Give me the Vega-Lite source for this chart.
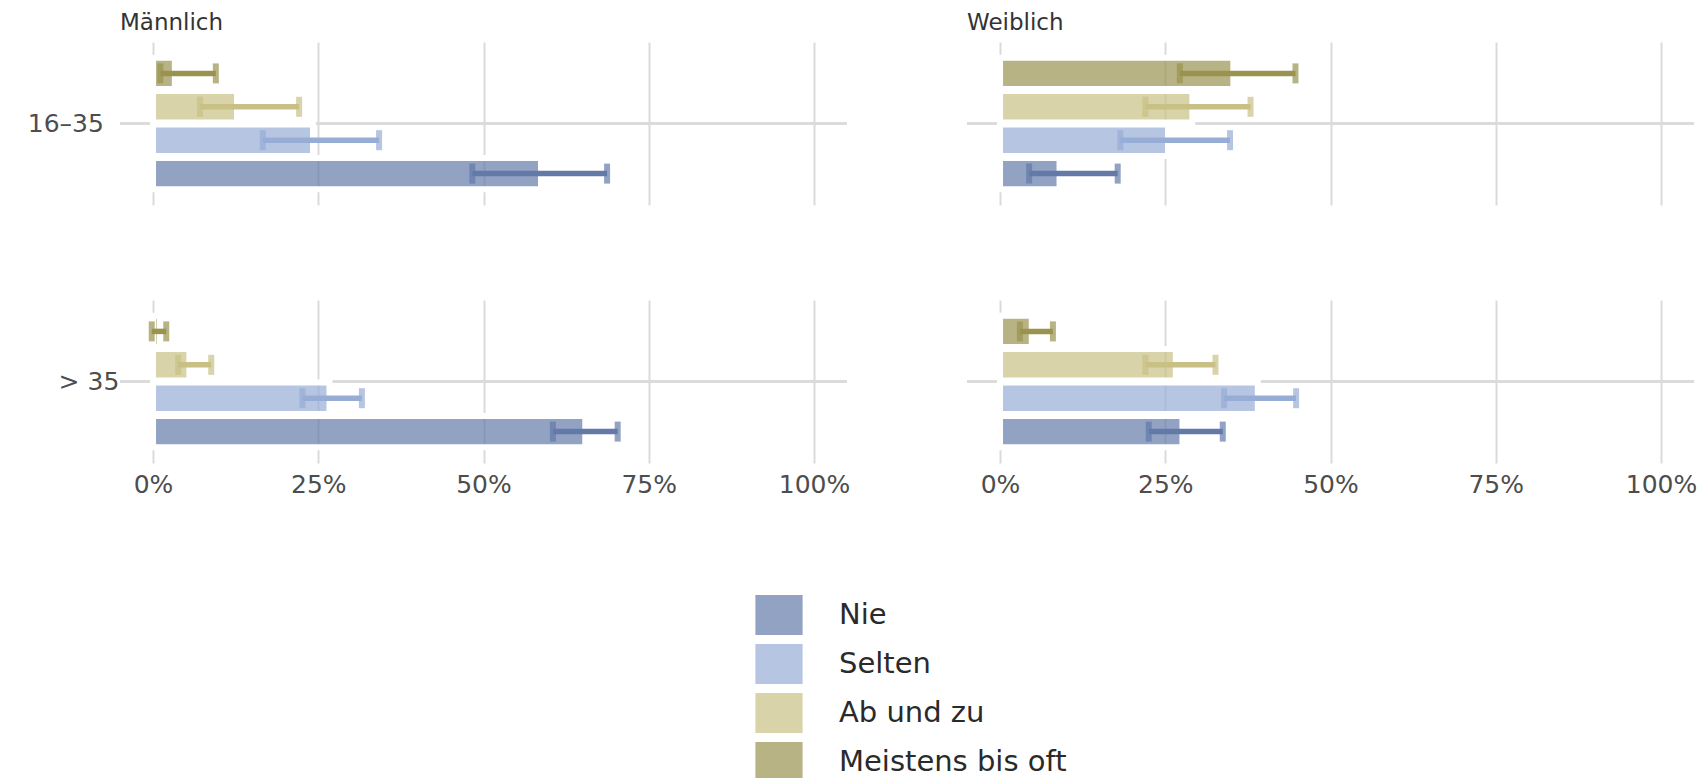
{
  "$schema": "https://vega.github.io/schema/vega-lite/v6.json",
  "background": "white",
  "padding": {"left": 27, "top": 12, "right": 12, "bottom": 5},
  "data": {
    "values": [
      {"Geschlecht": "Männlich", "Alter": "16–35", "Haeufigkeit": "Nie", "Anteil": 58.7, "Unten": 48.3, "Oben": 68.7},
      {"Geschlecht": "Männlich", "Alter": "16–35", "Haeufigkeit": "Selten", "Anteil": 24.2, "Unten": 16.6, "Oben": 34.2},
      {"Geschlecht": "Männlich", "Alter": "16–35", "Haeufigkeit": "Ab und zu", "Anteil": 12.7, "Unten": 7.1, "Oben": 22.1},
      {"Geschlecht": "Männlich", "Alter": "16–35", "Haeufigkeit": "Meistens bis oft", "Anteil": 3.3, "Unten": 1.1, "Oben": 9.5},
      {"Geschlecht": "Männlich", "Alter": "> 35", "Haeufigkeit": "Nie", "Anteil": 65.4, "Unten": 60.5, "Oben": 70.3},
      {"Geschlecht": "Männlich", "Alter": "> 35", "Haeufigkeit": "Selten", "Anteil": 26.7, "Unten": 22.6, "Oben": 31.6},
      {"Geschlecht": "Männlich", "Alter": "> 35", "Haeufigkeit": "Ab und zu", "Anteil": 5.5, "Unten": 3.8, "Oben": 8.8},
      {"Geschlecht": "Männlich", "Alter": "> 35", "Haeufigkeit": "Meistens bis oft", "Anteil": 1.0, "Unten": -0.2, "Oben": 2.0},
      {"Geschlecht": "Weiblich", "Alter": "16–35", "Haeufigkeit": "Nie", "Anteil": 9.0, "Unten": 4.4, "Oben": 17.8},
      {"Geschlecht": "Weiblich", "Alter": "16–35", "Haeufigkeit": "Selten", "Anteil": 25.4, "Unten": 18.2, "Oben": 34.8},
      {"Geschlecht": "Weiblich", "Alter": "16–35", "Haeufigkeit": "Ab und zu", "Anteil": 29.1, "Unten": 22.0, "Oben": 37.9},
      {"Geschlecht": "Weiblich", "Alter": "16–35", "Haeufigkeit": "Meistens bis oft", "Anteil": 35.3, "Unten": 27.2, "Oben": 44.7},
      {"Geschlecht": "Weiblich", "Alter": "> 35", "Haeufigkeit": "Nie", "Anteil": 27.6, "Unten": 22.5, "Oben": 33.7},
      {"Geschlecht": "Weiblich", "Alter": "> 35", "Haeufigkeit": "Selten", "Anteil": 39.0, "Unten": 33.9, "Oben": 44.8},
      {"Geschlecht": "Weiblich", "Alter": "> 35", "Haeufigkeit": "Ab und zu", "Anteil": 26.6, "Unten": 22.0, "Oben": 32.6},
      {"Geschlecht": "Weiblich", "Alter": "> 35", "Haeufigkeit": "Meistens bis oft", "Anteil": 4.8, "Unten": 3.0, "Oben": 8.0}
    ]
  },
  "facet": {
    "row": {
      "field": "Alter", "type": "nominal", "sort": ["16–35", "> 35"],
      "header": {"title": null, "labelOrient": "left", "labelAngle": 0, "labelAlign": "right", "labelBaseline": "middle",
                 "labelFont": "DejaVu Sans", "labelFontSize": 25, "labelColor": "#4D4D4D", "labelPadding": -61}
    },
    "column": {
      "field": "Geschlecht", "type": "nominal", "sort": ["Männlich", "Weiblich"],
      "header": {"title": null, "labelAnchor": "start", "labelAlign": "left", "labelFont": "DejaVu Sans",
                 "labelFontSize": 23, "labelColor": "#333333", "labelPadding": 7}
    }
  },
  "spacing": {"row": 95, "column": 118},
  "spec": {
    "width": 727,
    "height": 163,
    "encoding": {
      "y": {"field": "Haeufigkeit", "type": "nominal", "title": null,
            "sort": ["Meistens bis oft", "Ab und zu", "Selten", "Nie"],
            "scale": {"paddingInner": 0, "paddingOuter": 0.44},
            "axis": null}
    },
    "layer": [
      {
        "mark": {"type": "rule", "color": "#DADADA", "strokeWidth": 2},
        "encoding": {"y": {"datum": "Selten", "type": "nominal", "bandPosition": 0}}
      },
      {
        "mark": {"type": "bar", "fillOpacity": 0.7, "stroke": "white", "strokeWidth": 6, "strokeOpacity": 1, "height": {"band": 0.94}},
        "encoding": {
          "x": {"field": "Anteil", "type": "quantitative", "title": null,
                "scale": {"domain": [-5, 105], "nice": false, "zero": false},
                "axis": {"values": [0, 25, 50, 75, 100], "labelExpr": "datum.value + '%'", "title": null}},
          "color": {"field": "Haeufigkeit", "type": "nominal",
                    "scale": {"domain": ["Nie", "Selten", "Ab und zu", "Meistens bis oft"],
                              "range": ["#637AA8", "#97ADD5", "#C8C084", "#9A9350"]},
                    "legend": {"title": null, "orient": "none", "legendX": 639, "legendY": 553, "direction": "vertical",
                               "symbolType": "M-1.18,-1L1.18,-1L1.18,1L-1.18,1Z", "symbolSize": 1600,
                               "symbolOpacity": 0.7, "symbolStrokeWidth": 0, "rowPadding": 9, "labelOffset": 40,
                               "labelFont": "DejaVu Sans", "labelFontSize": 29, "labelColor": "#2A2A2A", "labelLimit": 500}}
        }
      },
      {
        "mark": {"type": "rule", "strokeWidth": 5.5},
        "encoding": {
          "x": {"field": "Unten", "type": "quantitative", "title": null},
          "x2": {"field": "Oben"},
          "color": {"field": "Haeufigkeit", "type": "nominal", "legend": null}
        }
      },
      {
        "mark": {"type": "tick", "thickness": 6, "size": 20},
        "encoding": {
          "x": {"field": "Unten", "type": "quantitative", "title": null},
          "color": {"field": "Haeufigkeit", "type": "nominal", "legend": null}
        }
      },
      {
        "mark": {"type": "tick", "thickness": 6, "size": 20},
        "encoding": {
          "x": {"field": "Oben", "type": "quantitative", "title": null},
          "color": {"field": "Haeufigkeit", "type": "nominal", "legend": null}
        }
      }
    ]
  },
  "config": {
    "view": {"stroke": null},
    "axis": {"gridColor": "#DADADA", "gridWidth": 2, "ticks": false, "domain": false,
             "labelFont": "DejaVu Sans", "labelFontSize": 25, "labelColor": "#4D4D4D", "labelPadding": 9}
  }
}
